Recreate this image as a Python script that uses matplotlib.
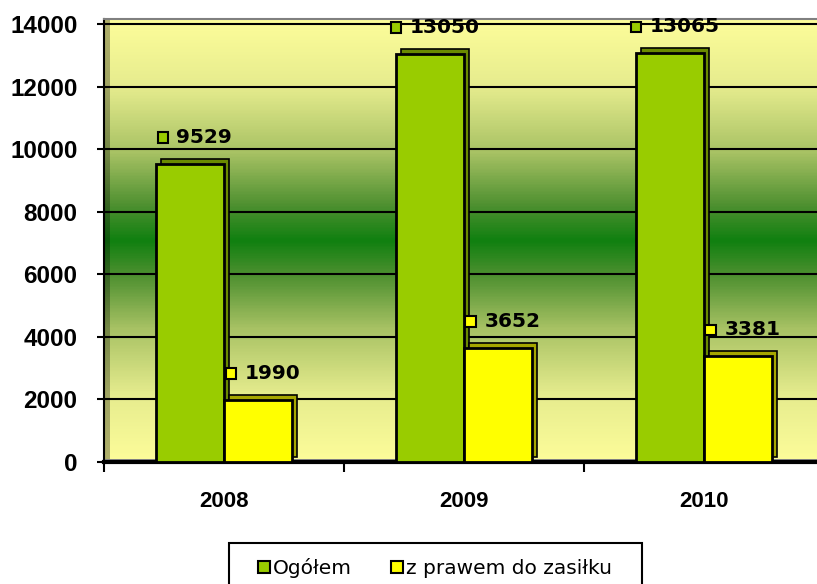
import matplotlib
matplotlib.use("Agg")
import matplotlib.pyplot as plt
import numpy as np
from matplotlib.colors import LinearSegmentedColormap
from matplotlib.offsetbox import AnnotationBbox, DrawingArea, HPacker, TextArea
from matplotlib.patches import Patch, Rectangle
from matplotlib.transforms import ScaledTranslation

# data
years = ["2008", "2009", "2010"]
ogolem = [9529, 13050, 13065]
z_prawem = [1990, 3652, 3381]
series_labels = ["Ogółem", "z prawem do zasiłku"]
y_ticks = [0, 2000, 4000, 6000, 8000, 10000, 12000, 14000]

GREEN = "#99CC00"
GREEN_DARK = "#6A8A00"
YELLOW = "#FFFF00"
YELLOW_DARK = "#A6A600"

fig = plt.figure(figsize=(8.17, 5.84), dpi=100)
ax = fig.add_axes([104 / 817, 122 / 584, 720 / 817, 442.7 / 584])

x = np.arange(len(years))
w = 0.283
ax.set_xlim(-0.5, len(years) - 0.5)
ax.set_ylim(0, 14150)

# background gradient (yellow - green - yellow)
cmap = LinearSegmentedColormap.from_list("wall", [
    (0.0, "#FDFD9A"), (0.15, "#E6EC8E"), (0.3, "#A8C264"), (0.42, "#4E9030"),
    (0.5, "#108010"), (0.58, "#4E9030"), (0.7, "#A8C264"), (0.85, "#E6EC8E"),
    (1.0, "#FDFD9A")])
grad = np.linspace(0, 1, 400).reshape(-1, 1)
ax.imshow(grad, cmap=cmap, aspect="auto", origin="lower",
          extent=(-0.5, len(years) - 0.5, 0, 14150), zorder=0)

# left wall and floor strips
ax.add_patch(Rectangle((0, 0), 6 / 720, 1, transform=ax.transAxes,
                       color="black", alpha=0.3, zorder=0.5, lw=0))
ax.add_patch(Rectangle((0, 0), 1, 3 / 442.7, transform=ax.transAxes,
                       color="#8C8C8C", zorder=0.5, lw=0))

ax.yaxis.grid(True, color="black", lw=1.5, zorder=1)
ax.set_axisbelow(True)

# 3D depth: offset bars behind the front faces
depth = ax.transData + ScaledTranslation(5 / 100, 5 / 100, fig.dpi_scale_trans)
ax.bar(x - w / 2, ogolem, w, color=GREEN_DARK, edgecolor="black", lw=1.2,
       transform=depth, zorder=2)
ax.bar(x + w / 2, z_prawem, w, color=YELLOW_DARK, edgecolor="black", lw=1.2,
       transform=depth, zorder=2)
ax.bar(x - w / 2, ogolem, w, color=GREEN, edgecolor="black", lw=2, zorder=3)
ax.bar(x + w / 2, z_prawem, w, color=YELLOW, edgecolor="black", lw=2, zorder=3)


def add_label(xpos, val, color):
    da = DrawingArea(7.5, 7.5, 0, 0)
    da.add_artist(Rectangle((0, 0), 7.5, 7.5, fc=color, ec="black", lw=1.5))
    ta = TextArea(str(val), textprops=dict(fontsize=14.5, family="DejaVu Sans",
                                           fontweight="bold", color="black"))
    box = HPacker(children=[da, ta], align="center", pad=0, sep=6)
    ab = AnnotationBbox(box, (xpos, val), xybox=(3.5, 19), xycoords="data",
                        boxcoords="offset points", frameon=False,
                        box_alignment=(0.5, 0.5), zorder=5)
    ax.add_artist(ab)


for i in range(len(years)):
    add_label(x[i] - w / 2, ogolem[i], GREEN)
    add_label(x[i] + w / 2, z_prawem[i], YELLOW)

# axes styling
ax.spines["right"].set_visible(False)
ax.spines["top"].set_color("#808080")
ax.spines["top"].set_linewidth(1.5)
ax.spines["left"].set_linewidth(1.5)
ax.spines["bottom"].set_linewidth(3)

ax.set_yticks(y_ticks)
ax.set_yticklabels([str(t) for t in y_ticks], fontsize=17.5, fontweight="bold",
                   family="Liberation Sans")
ax.tick_params(axis="y", length=5, width=1.5, pad=14)

ax.set_xticks(x)
ax.set_xticklabels(years, fontsize=16, fontweight="bold", family="Liberation Sans")
ax.set_xticks(np.arange(-0.5, len(years)), minor=True)
ax.tick_params(axis="x", which="major", length=0, pad=21)
ax.tick_params(axis="x", which="minor", length=7, width=1.5)

# legend
handles = [Patch(facecolor=GREEN, edgecolor="black", lw=1.5),
           Patch(facecolor=YELLOW, edgecolor="black", lw=1.5)]
fig.legend(handles, series_labels, loc="center",
           bbox_to_anchor=(435 / 817, 1 - 568 / 584), ncol=2, frameon=False,
           handlelength=0.6, handleheight=0.6, handletextpad=0.15,
           columnspacing=1.9, prop=dict(family="DejaVu Sans", size=14.5))
fig.patches.append(Rectangle((229 / 817, -0.05), (642 - 229) / 817,
                             (584 - 543) / 584 + 0.05, transform=fig.transFigure,
                             fill=False, ec="black", lw=1.5))

fig.savefig("out.png", dpi=100)
